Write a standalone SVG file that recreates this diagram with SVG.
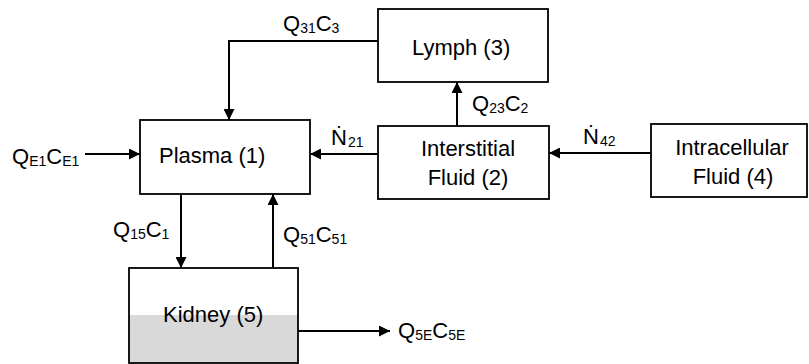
<svg xmlns="http://www.w3.org/2000/svg" width="809" height="364" viewBox="0 0 809 364">
<defs>
<marker id="arr" markerUnits="userSpaceOnUse" markerWidth="12" markerHeight="11" refX="11" refY="5.5" orient="auto">
<path d="M0,0 L11,5.5 L0,11 z" fill="#000"/>
</marker>
<style>
.box{fill:#fff;stroke:#000;stroke-width:1.8}
.t{font-family:"Liberation Sans",Arial,sans-serif;font-size:22px;fill:#000}
.s{font-size:14px}
.c{fill:none;stroke:#000;stroke-width:2;marker-end:url(#arr)}
.ln{fill:none;stroke:#000;stroke-width:2}
</style>
</defs>
<rect width="809" height="364" fill="#fff"/>
<g id="plasma">
<rect class="box" x="140" y="120" width="170" height="74"/>
<text class="t" x="159" y="163">Plasma (1)</text>
</g>
<g id="lymph">
<rect class="box" x="378" y="9" width="170" height="73"/>
<text class="t" x="412" y="55">Lymph (3)</text>
</g>
<g id="interstitial">
<rect class="box" x="378" y="126" width="171" height="73"/>
<text class="t" x="468" y="156" text-anchor="middle">Interstitial</text>
<text class="t" x="468" y="185" text-anchor="middle">Fluid (2)</text>
</g>
<g id="intracellular">
<rect class="box" x="651" y="124" width="156" height="73"/>
<text class="t" x="732" y="155" text-anchor="middle">Intracellular</text>
<text class="t" x="733" y="184" text-anchor="middle">Fluid (4)</text>
</g>
<g id="kidney">
<rect class="box" x="129" y="268" width="169" height="95"/>
<rect x="130" y="315" width="167" height="47" fill="#d9d9d9"/>
<text class="t" x="163" y="322">Kidney (5)</text>
</g>
<g id="connectors">
<path class="c" d="M378,41 H229 V120"/>
<path class="c" d="M85,154 H140"/>
<path class="c" d="M378,154 H310"/>
<path class="c" d="M651,153 H549"/>
<path class="c" d="M457,126 V82"/>
<path class="c" d="M181,194 V268"/>
<path class="c" d="M273,268 V194"/>
<path class="c" d="M298,331 H390"/>
</g>
<g id="labels">
<text class="t" x="283" y="31">Q<tspan class="s" dy="2">31</tspan><tspan dy="-2">C</tspan><tspan class="s" dy="2">3</tspan></text>
<text class="t" x="12" y="164">Q<tspan class="s" dy="2">E1</tspan><tspan dy="-2">C</tspan><tspan class="s" dy="2">E1</tspan></text>
<text class="t" x="331" y="145">Ṅ<tspan class="s" dx="1" dy="2">21</tspan></text>
<text class="t" x="583" y="144">Ṅ<tspan class="s" dx="1" dy="2">42</tspan></text>
<text class="t" x="472" y="111">Q<tspan class="s" dy="2">23</tspan><tspan dy="-2">C</tspan><tspan class="s" dy="2">2</tspan></text>
<text class="t" x="113" y="237">Q<tspan class="s" dy="2">15</tspan><tspan dy="-2">C</tspan><tspan class="s" dy="2">1</tspan></text>
<text class="t" x="283" y="242">Q<tspan class="s" dy="2">51</tspan><tspan dy="-2">C</tspan><tspan class="s" dy="2">51</tspan></text>
<text class="t" x="398" y="338">Q<tspan class="s" dy="2">5E</tspan><tspan dy="-2">C</tspan><tspan class="s" dy="2">5E</tspan></text>
</g>
</svg>
